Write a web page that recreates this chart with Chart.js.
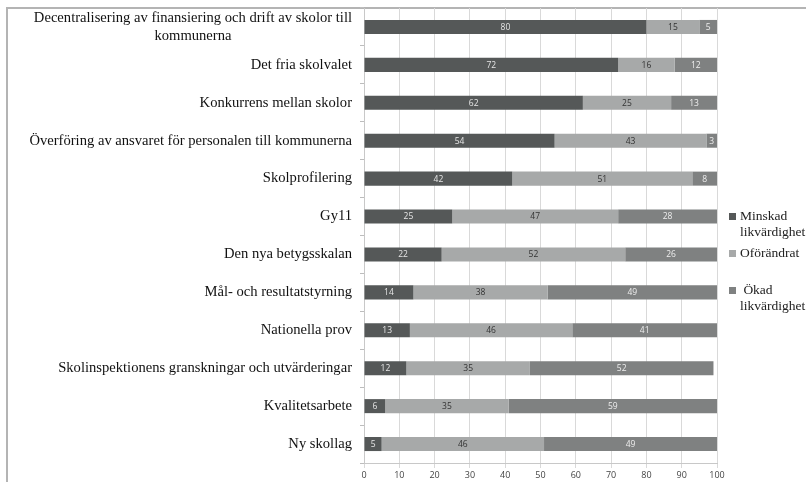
<!DOCTYPE html>
<html>
<head>
<meta charset="utf-8">
<script src="https://cdn.jsdelivr.net/npm/chart.js@4.4.1/dist/chart.umd.min.js"></script>
<style>
  html, body { margin: 0; padding: 0; background: #fff; }
  #wrap { position: relative; width: 806px; height: 482px; }
  .lg { position: absolute; left: 729px; font-family: 'Liberation Serif', 'Times New Roman', serif; font-size: 13.5px; color: #222; line-height: 16px; }
  .lg span.sq { position: absolute; left: 0; top: 5px; width: 7px; height: 7px; }
  .lg div { padding-left: 11px; }
</style>
</head>
<body>
<div id="wrap">
  <canvas id="chart" width="806" height="482"></canvas>
  <div class="lg" style="top:208px"><span class="sq" style="background:#555858"></span><div>Minskad<br>likvärdighet</div></div>
  <div class="lg" style="top:245px"><span class="sq" style="background:#a7a9a9"></span><div>Oförändrat</div></div>
  <div class="lg" style="top:282px"><span class="sq" style="background:#7f8181"></span><div>&nbsp;Ökad<br>likvärdighet</div></div>
</div>
<script>
// ── Data ──
var categories = [
  ['Decentralisering av finansiering och drift av skolor till', 'kommunerna'],
  'Det fria skolvalet',
  'Konkurrens mellan skolor',
  'Överföring av ansvaret för personalen till kommunerna',
  'Skolprofilering',
  'Gy11',
  'Den nya betygsskalan',
  'Mål- och resultatstyrning',
  'Nationella prov',
  'Skolinspektionens granskningar och utvärderingar',
  'Kvalitetsarbete',
  'Ny skollag'
];
var minskad    = [80, 72, 62, 54, 42, 25, 22, 14, 13, 12, 6, 5];
var oforandrat = [15, 16, 25, 43, 51, 47, 52, 38, 46, 35, 35, 46];
var okad       = [5, 12, 13, 3, 8, 28, 26, 49, 41, 52, 59, 49];
var xTicks = [0, 10, 20, 30, 40, 50, 60, 70, 80, 90, 100];

var COLORS = { dark: '#555858', light: '#a7a9a9', mid: '#7f8181' };
var LABEL_COLORS = ['#e6e6e6', '#333333', '#eeeeee'];

// ── Plugins ──
var framePlugin = {
  id: 'frame',
  beforeDraw: function(chart) {
    var ctx = chart.ctx;
    ctx.save();
    ctx.strokeStyle = '#b4b4b4';
    ctx.lineWidth = 2;
    ctx.beginPath();
    ctx.moveTo(7, 482);
    ctx.lineTo(7, 8);
    ctx.lineTo(806, 8);
    ctx.stroke();
    ctx.restore();
  }
};

// labels of the category axis, centred line by line, block right-aligned
var yLabelPlugin = {
  id: 'yLabels',
  afterDraw: function(chart) {
    var ctx = chart.ctx;
    var yScale = chart.scales.y;
    ctx.save();
    ctx.font = '14.6px "Liberation Serif", "Times New Roman", serif';
    ctx.fillStyle = '#111';
    ctx.textAlign = 'center';
    ctx.textBaseline = 'middle';
    var right = 352;
    categories.forEach(function(lab, i) {
      var lines = Array.isArray(lab) ? lab : [lab];
      var w = 0;
      lines.forEach(function(l) { w = Math.max(w, ctx.measureText(l).width); });
      var cy = yScale.getPixelForValue(i);
      var lh = 18;
      var y0 = cy - (lines.length - 1) * lh / 2;
      lines.forEach(function(l, j) {
        ctx.fillText(l, right - w / 2, y0 + j * lh);
      });
    });
    ctx.restore();
  }
};

var valueLabelPlugin = {
  id: 'valueLabels',
  afterDatasetsDraw: function(chart) {
    var ctx = chart.ctx;
    ctx.save();
    ctx.font = '8.5px "Open Sans", "Liberation Sans", sans-serif';
    ctx.textAlign = 'center';
    ctx.textBaseline = 'middle';
    chart.data.datasets.forEach(function(ds, di) {
      var meta = chart.getDatasetMeta(di);
      ctx.fillStyle = LABEL_COLORS[di];
      meta.data.forEach(function(bar, i) {
        var v = ds.data[i];
        if (!v) return;
        var x0 = Math.min(bar.x, chart.chartArea.right);
        ctx.fillText(String(v), (x0 + bar.base) / 2, bar.y + 0.5);
      });
    });
    ctx.restore();
  }
};

new Chart(document.getElementById('chart'), {
  type: 'bar',
  data: {
    labels: categories.map(function(c) { return Array.isArray(c) ? c.join(' ') : c; }),
    datasets: [
      { label: 'Minskad likvärdighet', data: minskad, backgroundColor: COLORS.dark },
      { label: 'Oförändrat', data: oforandrat, backgroundColor: COLORS.light },
      { label: 'Ökad likvärdighet', data: okad, backgroundColor: COLORS.mid }
    ]
  },
  options: {
    responsive: false,
    animation: false,
    indexAxis: 'y',
    layout: { padding: { top: 8, right: 89, left: 0, bottom: 0 } },
    datasets: { bar: { categoryPercentage: 1, barPercentage: 0.37 } },
    plugins: { legend: { display: false }, tooltip: { enabled: false } },
    scales: {
      x: {
        stacked: true,
        min: 0,
        max: 100,
        afterBuildTicks: function(scale) { scale.ticks = xTicks.map(function(v) { return { value: v }; }); },
        afterFit: function(scale) { scale.height = 19; },
        ticks: { color: '#444', font: { family: '"Open Sans", "Liberation Sans", sans-serif', size: 9 }, padding: 2, maxRotation: 0 },
        grid: { color: '#d9d9d9', tickLength: 5 },
        border: { color: '#c8c8c8' }
      },
      y: {
        stacked: true,
        afterFit: function(scale) { scale.width = 364; },
        ticks: { display: false },
        grid: { drawOnChartArea: false, offset: true, tickLength: 4, color: '#bdbdbd' },
        border: { color: '#c8c8c8' }
      }
    }
  },
  plugins: [framePlugin, yLabelPlugin, valueLabelPlugin]
});
</script>
</body>
</html>
